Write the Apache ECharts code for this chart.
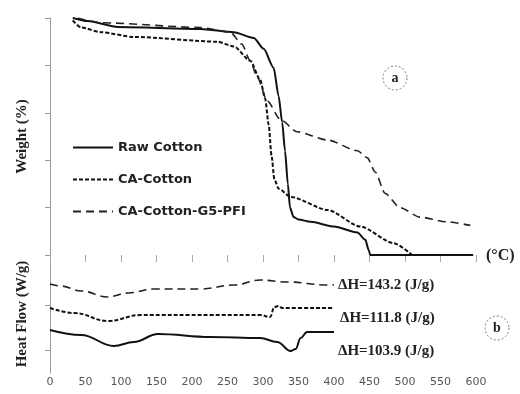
<!DOCTYPE html>
<html>
<head>
<meta charset="utf-8">
<style>
  html, body { margin: 0; padding: 0; background: #fff; }
  #chart { width: 520px; height: 394px; }
</style>
<script src="https://cdn.jsdelivr.net/npm/echarts@6/dist/echarts.min.js"></script>
</head>
<body>
<div id="chart"></div>
<script>
const seriesNames = ['Raw Cotton', 'CA-Cotton', 'CA-Cotton-G5-PFI']

// (a) TGA: temperature (°C) / weight (%)
const rawTgaT = [32, 53, 96, 212, 259, 287, 301, 315, 322, 327, 331, 335, 338, 343, 350, 367, 400, 433, 444, 449, 451, 596]
const rawTgaW = [100, 98.7, 96.2, 95.4, 94, 91.6, 87, 79, 67, 56, 44, 30, 20, 16, 15, 14, 12, 9.5, 6.5, 2, 0, 0]
const caTgaT = [32, 44, 72, 118, 236, 259, 282, 296, 303, 308, 312, 316, 322, 339, 391, 437, 484, 510]
const caTgaW = [99, 96, 94, 92, 90, 88, 82, 74, 66, 55, 42, 32, 28, 24.5, 19, 12, 5, 0]
const pfiTgaT = [39, 72, 212, 254, 270, 282, 292, 306, 325, 348, 391, 433, 447, 458, 472, 493, 521, 559, 592]
const pfiTgaW = [100, 98, 96, 94, 89, 82, 75, 65, 57, 52, 48.5, 44, 41, 35, 26, 20, 16, 14, 12.5]

// (b) DSC: temperature (°C) / heat flow (offset, arbitrary units)
const rawDscT = [0, 44, 90, 118, 152, 226, 296, 320, 339, 346, 353, 362, 400]
const rawDscH = [2.15, 1.9, 1.35, 1.55, 1.95, 1.8, 1.75, 1.55, 1.1, 1.2, 1.75, 2.05, 2.05]
const caDscT = [0, 34, 81, 128, 226, 296, 310, 316, 322, 327, 400]
const caDscH = [3.25, 3.0, 2.6, 2.9, 2.9, 2.9, 2.8, 3.3, 3.35, 3.25, 3.25]
const pfiDscT = [0, 15, 44, 81, 110, 146, 212, 259, 296, 334, 391, 400]
const pfiDscH = [4.45, 4.35, 4.1, 3.8, 4.0, 4.2, 4.2, 4.4, 4.65, 4.55, 4.4, 4.4]

const dhLabels = ['ΔH=143.2 (J/g)', 'ΔH=111.8 (J/g)', 'ΔH=103.9 (J/g)']

const LINE_STYLES = {
  'Raw Cotton': { color: '#111', width: 2, type: 'solid' },
  'CA-Cotton': { color: '#111', width: 2, type: [4, 2] },
  'CA-Cotton-G5-PFI': { color: '#222', width: 1.6, type: [8, 5] },
}

const zip = (a, b) => a.map((v, i) => [v, b[i]])

function line(name, t, v, idx) {
  return {
    name,
    type: 'line',
    xAxisIndex: idx,
    yAxisIndex: idx,
    data: zip(t, v),
    showSymbol: false,
    symbol: 'none',
    smooth: idx === 0 ? 0.25 : 0.4,
    smoothMonotone: 'x',
    lineStyle: LINE_STYLES[name],
    itemStyle: { color: LINE_STYLES[name].color },
  }
}

const chart = echarts.init(document.getElementById('chart'))

const serifBold = { fontFamily: 'Liberation Serif', fontWeight: 'bold', color: '#222' }
const tagText = (text, x, y, size) => ({
  type: 'text', x, y,
  style: { text, font: `bold ${size}px "Liberation Serif"`, fill: '#222', verticalAlign: 'middle' },
})
const circled = (letter, cx, cy) => [
  { type: 'circle', shape: { cx, cy, r: 12 }, style: { fill: 'none', stroke: '#777', lineWidth: 1, lineDash: [2, 2] } },
  { type: 'text', x: cx, y: cy, style: { text: letter, font: 'bold 14px "Liberation Serif"', fill: '#222', align: 'center', verticalAlign: 'middle' } },
]

chart.setOption({
  animation: false,
  grid: [
    { left: 50, right: 44, top: 18, height: 237 },
    { left: 50, right: 44, top: 255, height: 118 },
  ],
  legend: {
    data: seriesNames,
    orient: 'vertical',
    left: 67,
    top: 136,
    itemWidth: 40,
    itemHeight: 12,
    itemGap: 19,
    itemStyle: { color: 'transparent', borderColor: 'transparent', borderWidth: 0 },
    textStyle: { fontFamily: 'DejaVu Sans', fontWeight: 'bold', fontSize: 13, color: '#222' },
  },
  xAxis: [
    {
      gridIndex: 0, type: 'value', min: 0, max: 600, interval: 50,
      axisLine: { show: false },
      axisTick: { show: true, length: 7, lineStyle: { color: '#aaa' } },
      axisLabel: { show: false },
      splitLine: { show: false },
    },
    {
      gridIndex: 1, type: 'value', min: 0, max: 600, interval: 50,
      axisLine: { show: false },
      axisTick: { show: false },
      axisLabel: { show: true, fontSize: 11, color: '#555', margin: 4, fontFamily: 'DejaVu Sans' },
      splitLine: { show: false },
    },
  ],
  yAxis: [
    {
      gridIndex: 0, type: 'value', min: 0, max: 100, interval: 20,
      name: 'Weight (%)', nameLocation: 'middle', nameGap: 20,
      nameTextStyle: { ...serifBold, fontSize: 15 },
      axisLine: { show: true, lineStyle: { color: '#999' } },
      axisTick: { show: true, length: 5, lineStyle: { color: '#999' } },
      axisLabel: { show: false },
      splitLine: { show: false },
    },
    {
      gridIndex: 1, type: 'value', min: 0, max: 5.9,
      name: 'Heat Flow (W/g)', nameLocation: 'middle', nameGap: 20,
      nameTextStyle: { ...serifBold, fontSize: 15 },
      axisLine: { show: true, lineStyle: { color: '#999' } },
      axisTick: { show: true, length: 5, customValues: [1.15, 3.4], lineStyle: { color: '#999' } },
      axisLabel: { show: false },
      splitLine: { show: false },
    },
  ],
  graphic: [
    tagText('(°C)', 486, 256, 16),
    ...circled('a', 395, 78),
    ...circled('b', 497, 328),
    tagText(dhLabels[0], 338, 285, 15),
    tagText(dhLabels[1], 340, 318, 15),
    tagText(dhLabels[2], 338, 351, 15),
  ],
  series: [
    line('Raw Cotton', rawTgaT, rawTgaW, 0),
    line('CA-Cotton', caTgaT, caTgaW, 0),
    line('CA-Cotton-G5-PFI', pfiTgaT, pfiTgaW, 0),
    line('Raw Cotton', rawDscT, rawDscH, 1),
    line('CA-Cotton', caDscT, caDscH, 1),
    line('CA-Cotton-G5-PFI', pfiDscT, pfiDscH, 1),
  ],
})
</script>
</body>
</html>
